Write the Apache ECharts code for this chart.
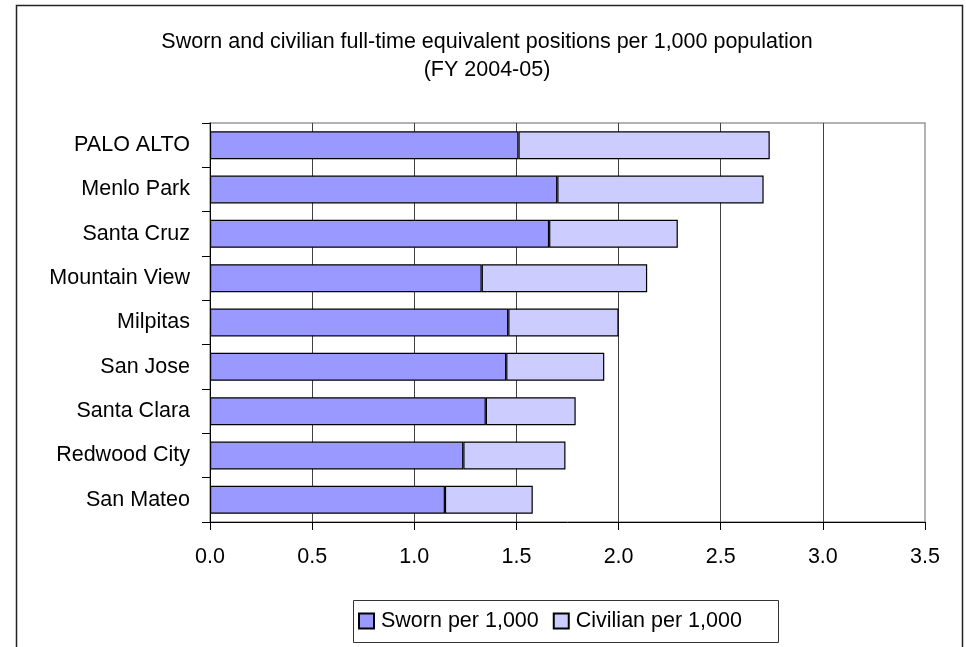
<!DOCTYPE html>
<html>
<head>
<meta charset="utf-8">
<title>Sworn and civilian FTE positions per 1,000 population</title>
<script src="https://cdn.jsdelivr.net/npm/echarts@6/dist/echarts.min.js"></script>
<style>
  html, body { margin: 0; padding: 0; background: #fff; }
  #chart { width: 966px; height: 647px; }
</style>
</head>
<body>
<div id="chart"></div>
<script>
// Cities, top to bottom
const cities = [
  'PALO ALTO', 'Menlo Park', 'Santa Cruz', 'Mountain View', 'Milpitas',
  'San Jose', 'Santa Clara', 'Redwood City', 'San Mateo'
];
// Sworn FTE per 1,000 residents
const sworn = [1.51, 1.70, 1.66, 1.33, 1.46, 1.45, 1.35, 1.24, 1.15];
// Civilian FTE per 1,000 residents
const civilian = [1.23, 1.01, 0.63, 0.81, 0.54, 0.48, 0.44, 0.50, 0.43];
const seriesNames = ['Sworn per 1,000', 'Civilian per 1,000'];
const xMin = 0, xMax = 3.5, xStep = 0.5;

const FONT = "'Liberation Sans', Arial, sans-serif";
const chart = echarts.init(document.getElementById('chart'), null, { renderer: 'canvas' });

chart.setOption({
  animation: false,
  backgroundColor: '#ffffff',
  textStyle: { fontFamily: FONT, color: '#000' },
  title: {
    text: 'Sworn and civilian full-time equivalent positions per 1,000 population\n(FY 2004-05)',
    left: 482,
    top: 23,
    textAlign: 'center',
    textStyle: { fontFamily: FONT, fontSize: 21.5, fontWeight: 'normal', color: '#000', lineHeight: 28 }
  },
  graphic: [
    { type: 'rect', shape: { x: 16.5, y: 5.5, width: 946, height: 660 },
      style: { fill: 'none', stroke: '#222', lineWidth: 1.5 }, silent: true, z: -1 },
    { type: 'rect', shape: { x: 353.5, y: 600.5, width: 425, height: 42 },
      style: { fill: '#fff', stroke: '#333', lineWidth: 1 }, silent: true, z: 0 }
  ],
  legend: {
    left: 358,
    top: 610,
    padding: 0,
    itemWidth: 15,
    itemHeight: 15,
    itemGap: 14,
    icon: 'rect',
    textStyle: { fontFamily: FONT, fontSize: 21.5, color: '#000', padding: [0, 0, 0, 2] },
    data: seriesNames
  },
  grid: {
    left: 210, right: 41, top: 123, bottom: 125,
    show: true, borderColor: '#999', borderWidth: 1.5, backgroundColor: '#fff'
  },
  xAxis: {
    type: 'value',
    min: xMin, max: xMax, interval: xStep,
    axisLine: { show: true, lineStyle: { color: '#000', width: 1 } },
    axisTick: { show: true, length: 8, lineStyle: { color: '#000' } },
    axisLabel: {
      margin: 24, fontSize: 21.5, fontFamily: FONT, color: '#000',
      formatter: v => v.toFixed(1)
    },
    splitLine: { show: true, showMinLine: false, showMaxLine: false, lineStyle: { color: '#404040', width: 1 } }
  },
  yAxis: {
    type: 'category',
    data: cities,
    inverse: true,
    axisLine: { show: true, lineStyle: { color: '#000', width: 1 } },
    axisTick: { show: true, length: 8, lineStyle: { color: '#000' } },
    axisLabel: { margin: 20, fontSize: 21.5, fontFamily: FONT, color: '#000' }
  },
  series: [
    {
      name: seriesNames[0], type: 'bar', stack: 'fte', data: sworn,
      barWidth: '63%',
      itemStyle: { color: '#9999ff', borderColor: '#000', borderWidth: 1.2 }
    },
    {
      name: seriesNames[1], type: 'bar', stack: 'fte', data: civilian,
      barWidth: '63%',
      itemStyle: { color: '#ccccff', borderColor: '#000', borderWidth: 1.2 }
    }
  ]
});
</script>
</body>
</html>
